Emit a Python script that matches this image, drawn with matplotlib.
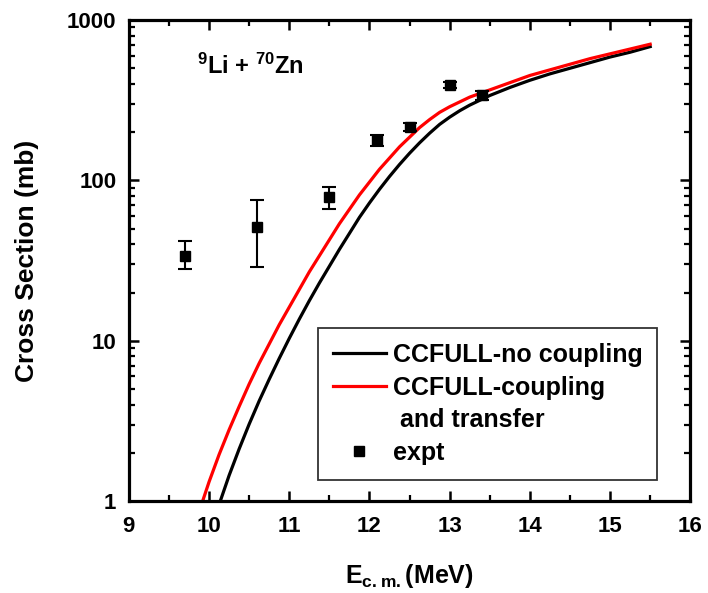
import numpy as np
import matplotlib
matplotlib.use("Agg")
import matplotlib.pyplot as plt
from matplotlib.lines import Line2D
from matplotlib.ticker import FixedLocator, FuncFormatter, MultipleLocator, LogLocator, NullFormatter

plt.rcParams['font.family'] = ['Liberation Sans', 'DejaVu Sans']
plt.rcParams['font.weight'] = 'bold'
plt.rcParams['mathtext.default'] = 'regular'

# ---- data ----
E_nocoup = [10.14, 10.25, 10.375, 10.5, 10.625, 10.75, 10.875, 11.0, 11.125, 11.25,
            11.375, 11.5, 11.625, 11.75, 11.875, 12.0, 12.125, 12.25, 12.375, 12.5,
            12.625, 12.75, 12.875, 13.0, 13.125, 13.25, 13.5, 13.75, 14.0, 14.25,
            14.5, 14.75, 15.0, 15.25, 15.5]
log_sig_nocoup = [0.00, 0.16, 0.325, 0.48, 0.625, 0.76, 0.89, 1.015, 1.135, 1.25,
                  1.36, 1.465, 1.57, 1.67, 1.77, 1.86, 1.945, 2.025, 2.10, 2.17,
                  2.235, 2.295, 2.35, 2.395, 2.435, 2.47, 2.53, 2.58, 2.625, 2.665,
                  2.70, 2.735, 2.77, 2.80, 2.835]
sig_nocoup = [10 ** v for v in log_sig_nocoup]

E_coup = [9.92, 10.0, 10.125, 10.25, 10.375, 10.5, 10.625, 10.75, 10.875, 11.0,
          11.125, 11.25, 11.375, 11.5, 11.625, 11.75, 11.875, 12.0, 12.125, 12.25,
          12.375, 12.5, 12.625, 12.75, 12.875, 13.0, 13.125, 13.25, 13.5, 13.75,
          14.0, 14.25, 14.5, 14.75, 15.0, 15.25, 15.5]
log_sig_coup = [0.00, 0.12, 0.29, 0.445, 0.59, 0.73, 0.86, 0.98, 1.10, 1.21,
                1.32, 1.43, 1.53, 1.63, 1.73, 1.82, 1.91, 1.99, 2.07, 2.14,
                2.21, 2.27, 2.33, 2.38, 2.425, 2.46, 2.49, 2.52, 2.565, 2.61,
                2.655, 2.69, 2.725, 2.76, 2.79, 2.82, 2.85]
sig_coup = [10 ** v for v in log_sig_coup]

E_expt = [9.7, 10.6, 11.5, 12.1, 12.5, 13.0, 13.4]
sig_expt = [34, 51, 79, 178, 215, 396, 340]
err_lo = [6, 22, 13, 15, 12, 18, 22]
err_hi = [8, 24, 12, 15, 12, 18, 22]

x_ticks = [9, 10, 11, 12, 13, 14, 15, 16]
y_ticks = [1, 10, 100, 1000]
label_nocoup = "CCFULL-no coupling"
label_coup = "CCFULL-coupling"
label_coup2 = " and transfer"
label_expt = "expt"

# ---- figure ----
fig = plt.figure(figsize=(7.08, 5.93), dpi=100)
ax = fig.add_axes([0.182, 0.155, 0.793, 0.811])

ax.plot(E_nocoup, sig_nocoup, color='black', lw=2.3, solid_joinstyle='round')
ax.plot(E_coup, sig_coup, color='#ff0000', lw=2.3, solid_joinstyle='round')
ax.errorbar(E_expt, sig_expt, yerr=[err_lo, err_hi], fmt='s', color='black',
            ms=7, elinewidth=1.5, capsize=5, capthick=1.5)

ax.set_yscale('log')
ax.set_xlim(9, 16)
ax.set_ylim(1, 1000)

ax.xaxis.set_major_locator(FixedLocator(x_ticks))
ax.xaxis.set_minor_locator(MultipleLocator(0.5))
ax.yaxis.set_major_locator(FixedLocator(y_ticks))
ax.yaxis.set_minor_locator(LogLocator(base=10, subs=np.arange(2, 10)))
ax.yaxis.set_major_formatter(FuncFormatter(lambda v, p: f"{v:g}"))
ax.yaxis.set_minor_formatter(NullFormatter())

for s in ax.spines.values():
    s.set_linewidth(2.3)
ax.tick_params(which='both', direction='in', top=True, right=True)
ax.tick_params(which='major', length=7, width=1.8, labelsize=16)
ax.tick_params(axis='x', which='major', pad=11)
ax.tick_params(axis='y', which='major', pad=9)
ax.tick_params(which='minor', length=4, width=1.6)
for lab in ax.get_xticklabels() + ax.get_yticklabels():
    lab.set_fontweight('bold')

ax.set_xlabel(r"E$_{c.m.}$(MeV)", fontsize=18, fontweight='bold', labelpad=18)
ax.set_ylabel("Cross Section (mb)", fontsize=19, fontweight='bold', labelpad=20)

ax.text(0.121, 0.905, r"$^{9}$Li + $^{70}$Zn", transform=ax.transAxes,
        fontsize=17, fontweight='bold', ha='left', va='center')

handles = [Line2D([], [], color='black', lw=2.3),
           Line2D([], [], color='#ff0000', lw=2.3),
           Line2D([], [], alpha=0),
           Line2D([], [], ls='none', marker='s', color='black', ms=6.5)]
labels = [label_nocoup, label_coup, label_coup2, label_expt]
leg = ax.legend(handles, labels, loc='upper left', bbox_to_anchor=(0.337, 0.36),
                borderaxespad=0, prop={'weight': 'bold', 'size': 18},
                handlelength=2.1, handletextpad=0.28, labelspacing=0.35,
                borderpad=0.6, fancybox=False, frameon=True)
leg.get_frame().set_edgecolor('black')
leg.get_frame().set_linewidth(1.3)

fig.savefig("out.png", dpi=100)
